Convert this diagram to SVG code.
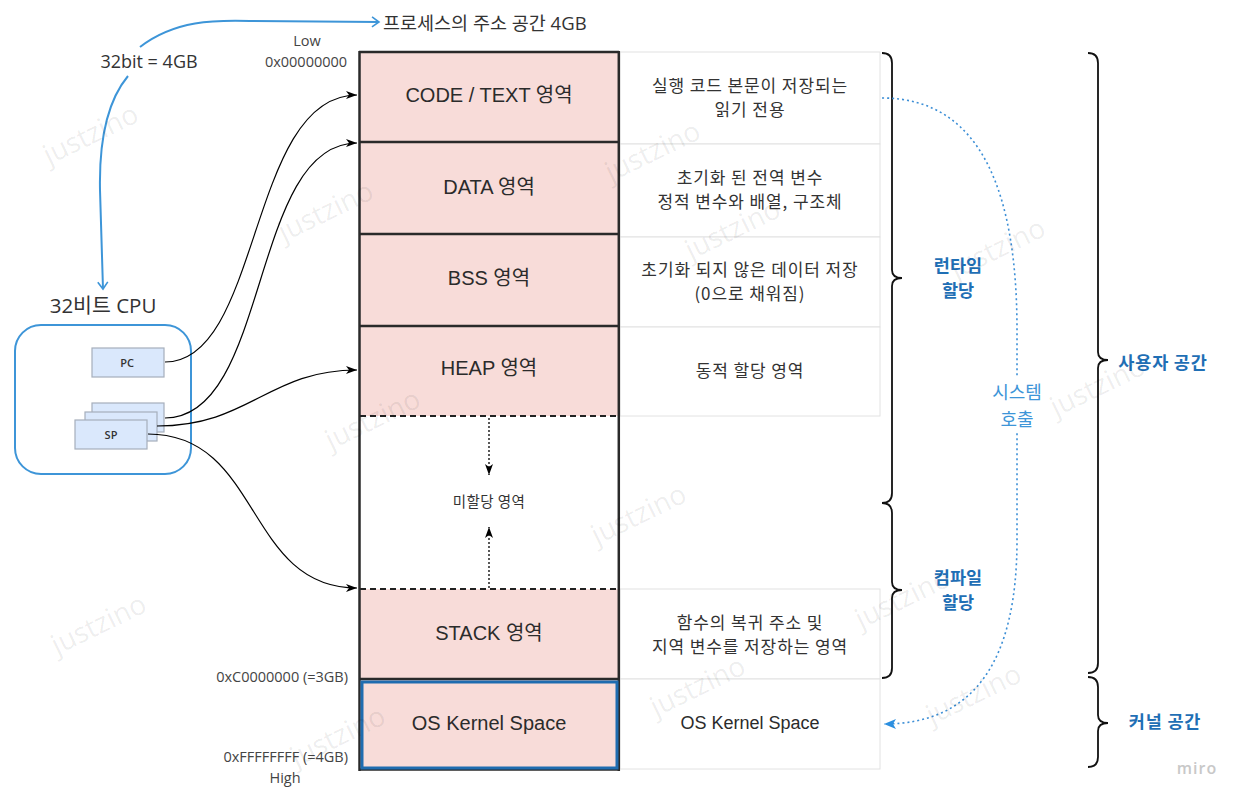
<svg xmlns="http://www.w3.org/2000/svg" width="1245" height="802" viewBox="0 0 1245 802">
<style>
text{dominant-baseline:central;text-anchor:middle}
.lbl{font-family:"Liberation Sans","Noto Sans CJK KR",sans-serif;font-size:20px;fill:#2b2b2b}
.desc{font-family:"Noto Sans CJK KR","Liberation Sans",sans-serif;font-size:17px;letter-spacing:0.9px;fill:#333}
.addr{font-family:"Open Sans","Noto Sans CJK KR",sans-serif;font-size:14.5px;fill:#444}
.top{font-family:"Open Sans","Noto Sans CJK KR",sans-serif;font-size:18px;fill:#333}
.blue{font-family:"Noto Sans CJK KR",sans-serif;font-size:17.5px;font-weight:bold;fill:#1f6fb5}
.sys{font-family:"Noto Sans CJK KR",sans-serif;font-size:18px;fill:#3d95d8}
.reg{font-family:"Open Sans",sans-serif;font-size:11px;font-weight:600;fill:#333}
.wm{font-family:"Open Sans",sans-serif;font-size:28px;fill:#000;fill-opacity:0.08}
.pink{fill:#f8dcd9;stroke:none}
.rbox{fill:#fff;stroke:#e2e2e2;stroke-width:1}
.sep{stroke:#2a2a2a;stroke-width:2.5}
.dash{stroke:#222;stroke-width:2;stroke-dasharray:6,4}
.conn{fill:none;stroke:#000;stroke-width:1.2}
.brace{fill:none;stroke:#111;stroke-width:1.8}
.regbox{fill:#dae8fc;stroke:#a6aebb;stroke-width:1.2}
</style>
<defs>
<marker id="ah" markerWidth="12" markerHeight="10" refX="11" refY="4" orient="auto" markerUnits="userSpaceOnUse">
<path d="M0,0 L11,4 L0,8 L3,4 z" fill="#000"/>
</marker>
<marker id="ahb" markerWidth="14" markerHeight="12" refX="12" refY="5" orient="auto" markerUnits="userSpaceOnUse">
<path d="M0,0 L12,5 L0,10 L3,5 z" fill="#2b8fe0"/>
</marker>
<marker id="aho" markerWidth="12" markerHeight="12" refX="9" refY="6" orient="auto" markerUnits="userSpaceOnUse">
<path d="M2,1 L9,6 L2,11" fill="none" stroke="#3d95d8" stroke-width="1.6"/>
</marker>
</defs>
<rect width="1245" height="802" fill="#fff"/>

<g id="right-column">
<rect class="rbox" x="620" y="52" width="260" height="92"/>
<rect class="rbox" x="620" y="144" width="260" height="93"/>
<rect class="rbox" x="620" y="237" width="260" height="90"/>
<rect class="rbox" x="620" y="327" width="260" height="89"/>
<rect class="rbox" x="620" y="589" width="260" height="90"/>
<rect class="rbox" x="620" y="679" width="260" height="90"/>
<text class="desc" x="750" y="84">실행 코드 본문이 저장되는</text>
<text class="desc" x="750" y="108">읽기 전용</text>
<text class="desc" x="750" y="176">초기화 된 전역 변수</text>
<text class="desc" x="750" y="200">정적 변수와 배열, 구조체</text>
<text class="desc" x="750" y="268">초기화 되지 않은 데이터 저장</text>
<text class="desc" x="750" y="292">(0으로 채워짐)</text>
<text class="desc" x="750" y="369">동적 할당 영역</text>
<text class="desc" x="750" y="621">함수의 복귀 주소 및</text>
<text class="desc" x="750" y="645">지역 변수를 저장하는 영역</text>
<text class="lbl" x="750" y="723" style="font-size:18px">OS Kernel Space</text>
</g>

<g id="memory-column">
<rect class="pink" x="360" y="52" width="259" height="90"/>
<rect class="pink" x="360" y="142" width="259" height="92"/>
<rect class="pink" x="360" y="234" width="259" height="92"/>
<rect class="pink" x="360" y="326" width="259" height="90"/>
<rect class="pink" x="360" y="589" width="259" height="90"/>
<rect class="pink" x="360" y="679" width="259" height="90"/>
<line class="sep" x1="359" y1="52" x2="619" y2="52"/>
<line class="sep" x1="359" y1="142" x2="619" y2="142"/>
<line class="sep" x1="359" y1="234" x2="619" y2="234"/>
<line class="sep" x1="359" y1="326" x2="619" y2="326"/>
<line class="dash" x1="360" y1="416" x2="619" y2="416"/>
<line class="dash" x1="360" y1="589" x2="619" y2="589"/>
<line class="sep" x1="359" y1="679" x2="619" y2="679"/>
<line class="sep" x1="359" y1="769.5" x2="619" y2="769.5"/>
<line class="sep" x1="359.5" y1="51" x2="359.5" y2="771"/>
<line class="sep" x1="618.8" y1="51" x2="618.8" y2="771"/>
<rect x="362" y="682" width="255" height="86" fill="none" stroke="#1f6cb0" stroke-width="3"/>
<text class="lbl" x="489" y="95">CODE / TEXT 영역</text>
<text class="lbl" x="489" y="187">DATA 영역</text>
<text class="lbl" x="489" y="278">BSS 영역</text>
<text class="lbl" x="489" y="368">HEAP 영역</text>
<text class="desc" x="489" y="500" style="font-size:14.5px;letter-spacing:0.4px">미할당 영역</text>
<text class="lbl" x="489" y="633">STACK 영역</text>
<text class="lbl" x="489" y="723">OS Kernel Space</text>
</g>

<g id="addresses">
<text class="addr" x="307" y="40">Low</text>
<text class="addr" x="306" y="61">0x00000000</text>
<text class="addr" x="348" y="676" style="text-anchor:end">0xC0000000 (=3GB)</text>
<text class="addr" x="348" y="756" style="text-anchor:end">0xFFFFFFFF (=4GB)</text>
<text class="addr" x="285" y="777">High</text>
</g>

<g id="cpu">
<text class="top" x="103" y="305" style="font-size:20.5px">32비트 CPU</text>
<rect x="15" y="325" width="176" height="149" rx="26" fill="#fff" stroke="#3d95d8" stroke-width="2"/>
<rect class="regbox" x="92" y="348" width="72" height="29"/>
<text class="reg" x="127" y="362">PC</text>
<rect class="regbox" x="92" y="403" width="72" height="29"/>
<rect class="regbox" x="85" y="412" width="72" height="29"/>
<rect class="regbox" x="75" y="420" width="72" height="29"/>
<text class="reg" x="111" y="434">SP</text>
</g>

<g id="top-labels">
<text class="top" x="149" y="61">32bit = 4GB</text>
<text class="top" x="383" y="22" style="text-anchor:start;font-size:18.5px">프로세스의 주소 공간 4GB</text>
</g>

<g id="braces">
<path class="brace" d="M882,53 Q892,53 892,63 L892,270 Q892,278 902,278 Q892,278 892,286 L892,493 Q892,503 882,503"/>
<path class="brace" d="M882,503 Q892,503 892,513 L892,582 Q892,590 902,590 Q892,590 892,598 L892,668 Q892,678 882,678"/>
<path class="brace" d="M1088,53 Q1098,53 1098,63 L1098,352 Q1098,360 1108,360 Q1098,360 1098,368 L1098,663 Q1098,673 1088,673"/>
<path class="brace" d="M1088,677 Q1098,677 1098,687 L1098,715 Q1098,723 1108,723 Q1098,723 1098,731 L1098,757 Q1098,767 1088,767"/>
<text class="blue" x="958" y="264">런타임</text>
<text class="blue" x="958" y="289">할당</text>
<text class="blue" x="958" y="576">컴파일</text>
<text class="blue" x="958" y="601">할당</text>
<text class="blue" x="1163" y="361" style="letter-spacing:0.8px">사용자 공간</text>
<text class="blue" x="1165" y="720" style="letter-spacing:0.8px">커널 공간</text>
</g>

<g id="connectors">
<path class="conn" d="M165,362 C262,362 248,95 357,95" marker-end="url(#ah)"/>
<path class="conn" d="M165,418 C270,418 250,143 357,143" marker-end="url(#ah)"/>
<path class="conn" d="M157,426 C250,426 268,370 357,370" marker-end="url(#ah)"/>
<path class="conn" d="M148,434 C262,434 245,588 357,588" marker-end="url(#ah)"/>
<path d="M489,418 L489,475" fill="none" stroke="#000" stroke-width="1.3" stroke-dasharray="2,2" marker-end="url(#ah)"/>
<path d="M489,588 L489,527" fill="none" stroke="#000" stroke-width="1.3" stroke-dasharray="2,2" marker-end="url(#ah)"/>
<path d="M140,47 C175,20 215,20 250,21 L379,22" fill="none" stroke="#3d95d8" stroke-width="2" marker-end="url(#aho)"/>
<path d="M128,76 C108,100 99,140 100,190 L103,289" fill="none" stroke="#3d95d8" stroke-width="2" marker-end="url(#aho)"/>
<path d="M882,98 C985,98 1017,200 1017,330 L1017,540 C1017,660 975,724 884,724" fill="none" stroke="#3d8fd6" stroke-width="1.6" stroke-dasharray="2,3" marker-end="url(#ahb)"/>
<rect x="985" y="377" width="64" height="56" fill="#fff"/>
<text class="sys" x="1017" y="391">시스템</text>
<text class="sys" x="1017" y="418">호출</text>
</g>

<g id="watermarks">
<text class="wm" transform="translate(90,133) rotate(-26)">justzino</text>
<text class="wm" transform="translate(325,210) rotate(-26)">justzino</text>
<text class="wm" transform="translate(652,150) rotate(-26)">justzino</text>
<text class="wm" transform="translate(732,228) rotate(-26)">justzino</text>
<text class="wm" transform="translate(997,247) rotate(-26)">justzino</text>
<text class="wm" transform="translate(372,418) rotate(-26)">justzino</text>
<text class="wm" transform="translate(638,513) rotate(-26)">justzino</text>
<text class="wm" transform="translate(1097,385) rotate(-26)">justzino</text>
<text class="wm" transform="translate(98,623) rotate(-26)">justzino</text>
<text class="wm" transform="translate(902,597) rotate(-26)">justzino</text>
<text class="wm" transform="translate(697,685) rotate(-26)">justzino</text>
<text class="wm" transform="translate(973,693) rotate(-26)">justzino</text>
<text class="wm" transform="translate(337,735) rotate(-26)">justzino</text>
<text x="1197" y="768" style="font-family:'Open Sans',sans-serif;font-size:16px;font-weight:600;fill:#c8c8c8;letter-spacing:1px">miro</text>
</g>
</svg>
